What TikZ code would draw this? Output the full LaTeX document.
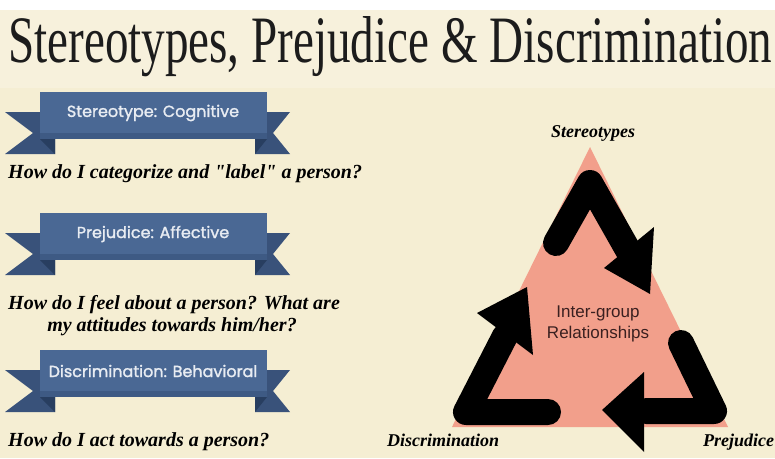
\documentclass[tikz,border=0pt]{standalone}
\usepackage{fontspec}
\usepackage{graphicx}
\setmainfont{Liberation Serif}
\newfontfamily\bannerfont{Poppins}[FakeBold=1.5]
\newfontfamily\labelfont{Liberation Sans}

\definecolor{paper}{HTML}{F5EED3}
\definecolor{band}{HTML}{F7F1DC}
\definecolor{ribbonblue}{HTML}{4A6894}
\definecolor{ribbonshade}{HTML}{3E5A84}
\definecolor{ribbondark}{HTML}{39527A}
\definecolor{ribbonfold}{HTML}{283E60}
\definecolor{tagwhite}{HTML}{E8ECF2}
\definecolor{salmon}{HTML}{F29F8B}
\definecolor{inktext}{HTML}{3A2020}
\definecolor{titleink}{HTML}{1C1C1C}

\begin{document}
\begin{tikzpicture}[x=1pt, y=-1pt,
  ribbon/.style={fill=ribbonblue},
  tail/.style={fill=ribbondark},
  fold/.style={fill=ribbonfold},
  tag/.style={text=tagwhite, font=\bannerfont\fontsize{16}{19}\selectfont},
  ask/.style={font=\bfseries\itshape\fontsize{20}{24}\selectfont, anchor=base west, inner sep=0},
  corner/.style={font=\bfseries\itshape\fontsize{18}{22}\selectfont, inner sep=0},
  bentarrow/.style={line width=26pt, line cap=round, line join=round, draw=black}]
\useasboundingbox (0,0) rectangle (775,458);
\clip (0,0) rectangle (775,458);
\fill[paper] (0,0) rectangle (775,458);
\fill[band] (0,10) rectangle (775,88);
\fill[white] (0,0) rectangle (775,10);

\node[anchor=base west, inner sep=0, text=titleink] (title) at (8,62)
  {\resizebox{764pt}{46pt}{\fontsize{40}{40}\selectfont Stereotypes, Prejudice \& Discrimination}};

% ribbons on the left
\foreach \y/\txt/\nm in {92/Stereotype: Cognitive/cog, 213/Prejudice: Affective/aff, 350/Discrimination: Behavioral/beh} {
  \fill[tail] (5,\y+20) -- (55,\y+20) -- (55,\y+62) -- (5,\y+62) -- (33,\y+41) -- cycle;
  \fill[tail] (290,\y+20) -- (255,\y+20) -- (255,\y+62) -- (290,\y+62) -- (273,\y+41) -- cycle;
  \fill[fold] (40,\y+47) -- (55,\y+47) -- (55,\y+62) -- cycle;
  \fill[fold] (267,\y+47) -- (255,\y+47) -- (255,\y+62) -- cycle;
  \fill[ribbon] (40,\y) rectangle (267,\y+47);
  \fill[ribbonshade] (40,\y+41) rectangle (267,\y+47);
  \node[tag] (\nm) at (153,\y+21) {\txt};
}

\node[ask] (q1) at (8,178) {How do I categorize and \textquotedbl label\textquotedbl{} a person?};
\node[ask] (q2) at (8,309) {How do I feel about a person? What are};
\node[ask, anchor=base] (q2b) at (172,331) {my attitudes towards him/her?};
\node[ask] (q3) at (8,446) {How do I act towards a person?};

% the triangle
\coordinate (top) at (590,147);
\coordinate (left) at (452,427);
\coordinate (right) at (728,427);
\fill[salmon] (top) -- (right) -- (left) -- cycle;

\node[corner] (st) at (593,133) {Stereotypes};
\node[corner, anchor=base west] (dis) at (387,446) {Discrimination};
\node[corner, anchor=base west] (pre) at (703,446) {Prejudice};

\node[align=center, text=inktext, font=\labelfont\fontsize{17}{21}\selectfont] (ig) at (598,324)
  {Inter-group\\Relationships};

% three bent arrows
\coordinate (ta1) at (556,243);
\coordinate (ta2) at (590,183);
\coordinate (ta3) at (628,250);
\draw[bentarrow] (ta1) -- (ta2) -- (ta3);
\fill (654,227) -- (604,268) -- (650,294) -- cycle;

\coordinate (ra1) at (681,343);
\coordinate (ra2) at (714,411);
\coordinate (ra3) at (646,411);
\draw[bentarrow] (ra1) -- (ra2) -- (ra3);
\fill (644,372) -- (602,410) -- (644,452) -- cycle;

\coordinate (la1) at (548,412);
\coordinate (la2) at (466,412);
\coordinate (la3) at (505,336);
\draw[bentarrow] (la1) -- (la2) -- (la3);
\fill (477,313) -- (527,287) -- (533,355) -- cycle;
\end{tikzpicture}
\end{document}
